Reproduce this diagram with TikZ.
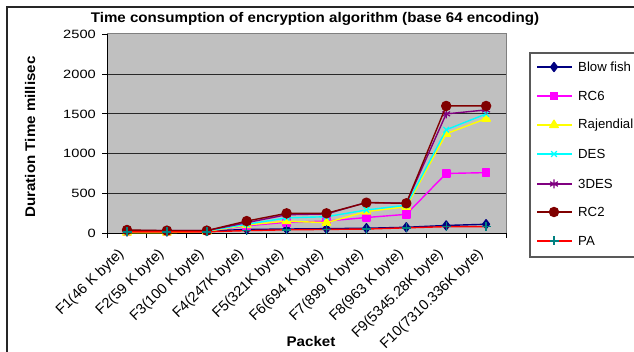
\documentclass[tikz,border=0pt]{standalone}
\usepackage{fontspec}
\setmainfont{Liberation Sans}
\usetikzlibrary{plotmarks}
\definecolor{navyc}{RGB}{0,0,128}
\definecolor{magc}{RGB}{255,0,255}
\definecolor{yelc}{RGB}{255,255,0}
\definecolor{cyac}{RGB}{0,255,255}
\definecolor{purc}{RGB}{128,0,128}
\definecolor{rctwo}{RGB}{128,0,0}
\definecolor{pac}{RGB}{255,0,0}
\definecolor{tealc}{RGB}{0,128,128}
\definecolor{plotbg}{RGB}{192,192,192}
\definecolor{gridc}{RGB}{40,40,40}
\begin{document}
\begin{tikzpicture}[x=1pt,y=-1pt,
  ser/.style={line width=1.4pt, line join=round},
  sBF/.style={navyc, mark=diamond*, mark size=4.5pt, mark options={fill=navyc, solid}},
  sRC6/.style={magc, mark=square*, mark size=3.6pt, mark options={fill=magc}},
  sRJ/.style={yelc, mark=triangle*, mark size=4.8pt, mark options={fill=yelc}},
  sDES/.style={cyac, mark=x, mark size=4pt, mark options={line width=1.3pt}},
  sTDES/.style={purc, mark=asterisk, mark size=4.5pt, mark options={line width=1.2pt}},
  sRC2/.style={rctwo, mark=*, mark size=4.5pt, mark options={fill=rctwo}},
  sPA/.style={pac, mark=+, mark size=4.5pt, mark options={draw=tealc, line width=1.4pt}},
  ticklbl/.style={font=\fontsize{12}{12}\selectfont, inner sep=0pt, anchor=east},
  catlbl/.style={font=\fontsize{14.5}{14.5}\selectfont, inner sep=0pt, anchor=east, rotate=44},
  leglbl/.style={font=\fontsize{13.2}{13.2}\selectfont, inner sep=0pt, anchor=west},
  axtitle/.style={font=\bfseries\fontsize{14}{14}\selectfont, inner sep=0pt}]
\useasboundingbox (0,0) rectangle (634,352);
\clip (0,0) rectangle (634,352);
\fill[white] (0,0) rectangle (634,352);
% outer frame
\draw[line width=1.5pt, black!85] (7,7) rectangle (650,370);
% title
\node[axtitle] (title) at (315,19) {\scalebox{1.08}[1]{Time consumption of encryption algorithm (base 64 encoding)}};
% plot area
\fill[plotbg] (107,34) rectangle (506,233);
\draw[line width=1pt, black!50] (107,34) -- (506,34) -- (506,233);
\foreach \v in {1,2,3,4} \draw[gridc, line width=0.9pt] (107,{233-39.7*\v}) -- (506,{233-39.7*\v});
% axes
\draw[black, line width=0.9pt] (107,34) -- (107,233) -- (506,233);
\foreach \v/\t in {0/0,1/500,2/1000,3/1500,4/2000,5/2500} {
  \draw[black, line width=0.9pt] (102,{233-39.7*\v}) -- (107,{233-39.7*\v});
  \node[ticklbl] (yt\v) at (96,{233-39.7*\v}) {\scalebox{1.22}[1]{\t}};
}
\foreach \i in {0,...,10} \draw[black, line width=0.9pt] ({107+39.9*\i},233) -- ({107+39.9*\i},238);
% category labels
\foreach \i/\t in {0/F1(46 K byte),1/F2(59 K byte),2/F3(100 K byte),3/F4(247K byte),4/F5(321K byte),5/F6(694 K byte),6/F7(899 K byte),7/F8(963 K byte),8/F9(5345.28K byte),9/F10(7310.336K byte)}
  \node[catlbl] (c\i) at ({127+39.9*\i-5},252) {\t};
% axis titles
\node[axtitle, rotate=90] (ytitle) at (30,137) {\scalebox{1.08}[1]{Duration Time millisec}};
\node[axtitle] (xtitle) at (311,341) {\scalebox{1.08}[1]{Packet}};
% data
\begin{scope}[shift={(127,233)}, x=39.9pt, y=0.0794pt]
\draw[ser, sBF] plot coordinates {(0,20) (1,20) (2,25) (3,45) (4,50) (5,55) (6,60) (7,72) (8,95) (9,110)};
\draw[ser, sRC6] plot coordinates {(0,15) (1,15) (2,25) (3,90) (4,135) (5,150) (6,195) (7,235) (8,750) (9,760)};
\draw[ser, sRJ] plot coordinates {(0,5) (1,5) (2,20) (3,100) (4,150) (5,130) (6,270) (7,330) (8,1250) (9,1440)};
\draw[ser, sDES] plot coordinates {(0,20) (1,20) (2,25) (3,110) (4,190) (5,205) (6,290) (7,350) (8,1300) (9,1500)};
\draw[ser, sTDES] plot coordinates {(0,30) (1,30) (2,30) (3,130) (4,230) (5,240) (6,385) (7,374) (8,1500) (9,1550)};
\draw[ser, sRC2] plot coordinates {(0,38) (1,30) (2,30) (3,150) (4,248) (5,248) (6,382) (7,374) (8,1600) (9,1600)};
\draw[ser, sPA] plot coordinates {(0,15) (1,15) (2,15) (3,30) (4,40) (5,45) (6,50) (7,65) (8,80) (9,80)};
\end{scope}
% legend
\draw[line width=1.2pt, black!65] (530,53) rectangle (650,257);
\foreach \s/\y/\t in {sBF/67/Blow fish, sRC6/96/RC6, sRJ/125/Rajendial, sDES/154/DES, sTDES/184/3DES, sRC2/212/RC2, sPA/241/PA} {
  \draw[ser, \s] (537,\y) -- (572,\y);
  \path[ser, \s] plot coordinates {(554,\y)};
  \node[leglbl] (l\y) at (578,\y) {\t};
}
\end{tikzpicture}
\end{document}
